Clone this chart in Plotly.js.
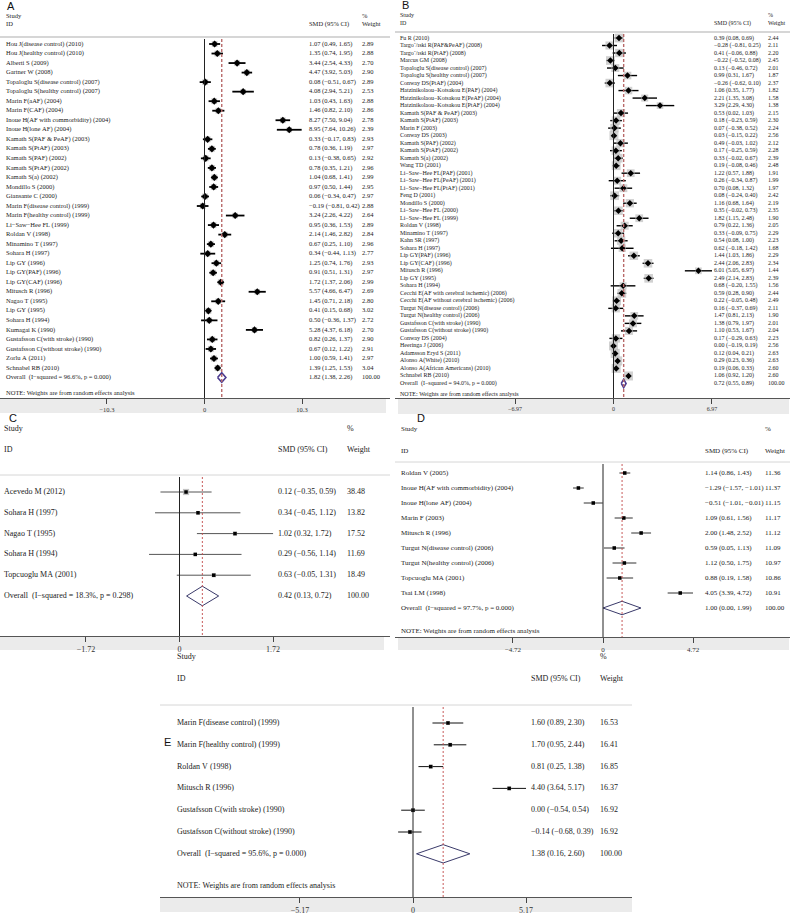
<!DOCTYPE html>
<html><head><meta charset="utf-8">
<script src="https://cdn.plot.ly/plotly-3.0.1.min.js"></script>
<style>body{margin:0;background:#fff}#chart{width:790px;height:914px}</style>
</head><body><div id="chart"></div>
<script>
// ---------------- DATA ----------------
const aStudies = ["Hou J(disease control) (2010)","Hou J(healthy control) (2010)","Alberti S (2009)","Gartner W (2008)","Topaloglu S(disease control) (2007)","Topaloglu S(healthy control) (2007)","Marin F(aAF) (2004)","Marin F(CAF) (2004)","Inoue H(AF with commorbidity) (2004)","Inoue H(lone AF) (2004)","Kamath S(PAF & PeAF) (2003)","Kamath S(PtAF) (2003)","Kamath S(PAF) (2002)","Kamath S(PtAF) (2002)","Kamath S(a) (2002)","Mondillo S (2000)","Giansante C (2000)","Marin F(disease control) (1999)","Marin F(healthy control) (1999)","Li−Saw−Hee FL (1999)","Roldan V (1998)","Minamino T (1997)","Sohara H (1997)","Lip GY (1996)","Lip GY(PAF) (1996)","Lip GY(CAF) (1996)","Mitusch R (1996)","Nagao T (1995)","Lip GY (1995)","Sohara H (1994)","Kumagai K (1990)","Gustafsson C(with stroke) (1990)","Gustafsson C(without stroke) (1990)","Zorlu A (2011)","Schnabel RB (2010)"];
const aSMD  = [1.07,1.35,3.44,4.47,0.08,4.08,1.03,1.46,8.27,8.95,0.33,0.78,0.13,0.78,1.04,0.97,0.06,-0.19,3.24,0.95,2.14,0.67,0.34,1.25,0.91,1.72,5.57,1.45,0.41,0.50,5.28,0.82,0.67,1.00,1.39];
const aLow  = [0.49,0.74,2.54,3.92,-0.51,2.94,0.43,0.82,7.50,7.64,-0.17,0.36,-0.38,0.35,0.68,0.50,-0.34,-0.81,2.26,0.36,1.46,0.25,-0.44,0.74,0.51,1.37,4.66,0.71,0.15,-0.36,4.37,0.26,0.12,0.59,1.25];
const aHigh = [1.65,1.95,4.33,5.03,0.67,5.21,1.63,2.10,9.04,10.26,0.83,1.19,0.65,1.21,1.41,1.44,0.47,0.42,4.22,1.53,2.82,1.10,1.13,1.76,1.31,2.06,6.47,2.18,0.68,1.37,6.18,1.37,1.22,1.41,1.53];
const aWeight = [2.89,2.88,2.70,2.90,2.89,2.53,2.88,2.86,2.78,2.39,2.93,2.97,2.92,2.96,2.99,2.95,2.97,2.88,2.64,2.89,2.84,2.96,2.77,2.93,2.97,2.99,2.69,2.80,3.02,2.72,2.70,2.90,2.91,2.97,3.04];
const aOverall = [1.82,1.38,2.26,100.00];
const aHet = "I−squared = 96.6%, p = 0.000";
const aTick = 10.3;

const bStudies = ["Fu R (2010)","Targo´/ıski R(PAF&PeAF) (2008)","Targo´/ıski R(PtAF) (2008)","Marcus GM (2008)","Topaloglu S(disease control) (2007)","Topaloglu S(healthy control) (2007)","Conway DS(PtAF) (2004)","Hatzinikolaou−Kotsakou E(PAF) (2004)","Hatzinikolaou−Kotsakou E(PeAF) (2004)","Hatzinikolaou−Kotsakou E(PtAF) (2004)","Kamath S(PAF & PeAF) (2003)","Kamath S(PtAF) (2003)","Marin F (2003)","Conway DS (2003)","Kamath S(PAF) (2002)","Kamath S(PtAF) (2002)","Kamath S(a) (2002)","Wang TD (2001)","Li−Saw−Hee FL(PAF) (2001)","Li−Saw−Hee FL(PeAF) (2001)","Li−Saw−Hee FL(PtAF) (2001)","Feng D (2001)","Mondillo S (2000)","Li−Saw−Hee FL (2000)","Li−Saw−Hee FL (1999)","Roldan V (1998)","Minamino T (1997)","Kahn SR (1997)","Sohara H (1997)","Lip GY(PAF) (1996)","Lip GY(CAF) (1996)","Mitusch R (1996)","Lip GY (1995)","Sohara H (1994)","Cecchi E(AF with cerebral ischemic) (2006)","Cecchi E(AF without cerebral ischemic) (2006)","Turgut N(disease control) (2006)","Turgut N(healthy control) (2006)","Gustafsson C(with stroke) (1990)","Gustafsson C(without stroke) (1990)","Conway DS (2004)","Heeringa J (2006)","Adamsson Eryd S (2011)","Alonso A(White) (2010)","Alonso A(African Americans) (2010)","Schnabel RB (2010)"];
const bSMD  = [0.39,-0.28,0.41,-0.22,0.13,0.99,-0.26,1.06,2.21,3.29,0.53,0.18,0.07,0.03,0.49,0.17,0.33,0.19,1.22,0.26,0.70,0.08,1.16,0.35,1.82,0.79,0.33,0.54,0.62,1.44,2.44,6.01,2.49,0.68,0.59,0.22,0.16,1.47,1.38,1.10,0.17,0.00,0.12,0.29,0.19,1.06];
const bLow  = [0.08,-0.81,-0.06,-0.52,-0.46,0.31,-0.62,0.35,1.35,2.29,0.02,-0.23,-0.38,-0.15,-0.03,-0.25,-0.02,-0.08,0.57,-0.34,0.08,-0.24,0.68,-0.02,1.15,0.22,-0.09,0.08,-0.18,1.03,2.06,5.05,2.14,-0.20,0.28,-0.05,-0.37,0.81,0.79,0.53,-0.29,-0.19,0.04,0.23,0.06,0.92];
const bHigh = [0.69,0.25,0.88,0.08,0.72,1.67,0.10,1.77,3.08,4.30,1.03,0.59,0.52,0.22,1.02,0.59,0.67,0.46,1.88,0.87,1.32,0.40,1.64,0.73,2.48,1.36,0.75,1.00,1.42,1.86,2.83,6.97,2.83,1.55,0.90,0.48,0.69,2.13,1.97,1.67,0.63,0.19,0.21,0.36,0.33,1.20];
const bWeight = [2.44,2.11,2.20,2.45,2.01,1.87,2.37,1.82,1.58,1.38,2.15,2.30,2.24,2.56,2.12,2.28,2.39,2.48,1.91,1.99,1.97,2.42,2.19,2.35,1.90,2.05,2.29,2.23,1.68,2.29,2.34,1.44,2.39,1.56,2.44,2.49,2.11,1.90,2.01,2.04,2.23,2.56,2.63,2.63,2.60,2.60];
const bOverall = [0.72,0.55,0.89,100.00];
const bHet = "I−squared = 94.0%, p = 0.000";
const bTick = 6.97;

const cStudies = ["Acevedo M (2012)","Sohara H (1997)","Nagao T (1995)","Sohara H (1994)","Topcuoglu MA (2001)"];
const cSMD  = [0.12,0.34,1.02,0.29,0.63];
const cLow  = [-0.35,-0.45,0.32,-0.56,-0.05];
const cHigh = [0.59,1.12,1.72,1.14,1.31];
const cWeight = [38.48,13.82,17.52,11.69,18.49];
const cOverall = [0.42,0.13,0.72,100.00];
const cHet = "I−squared = 18.3%, p = 0.298";
const cTick = 1.72;

const dStudies = ["Roldan V (2005)","Inoue H(AF with commorbidity) (2004)","Inoue H(lone AF) (2004)","Marin F (2003)","Mitusch R (1996)","Turgut N(disease control) (2006)","Turgut N(healthy control) (2006)","Topcuoglu MA (2001)","Tsai LM (1998)"];
const dSMD  = [1.14,-1.29,-0.51,1.09,2.00,0.59,1.12,0.88,4.05];
const dLow  = [0.86,-1.57,-1.01,0.61,1.48,0.05,0.50,0.19,3.39];
const dHigh = [1.43,-1.01,-0.01,1.56,2.52,1.13,1.75,1.58,4.72];
const dWeight = [11.36,11.37,11.15,11.17,11.12,11.09,10.97,10.86,10.91];
const dOverall = [1.00,0.00,1.99,100.00];
const dHet = "I−squared = 97.7%, p = 0.000";
const dTick = 4.72;

const eStudies = ["Marin F(disease control) (1999)","Marin F(healthy control) (1999)","Roldan V (1998)","Mitusch R (1996)","Gustafsson C(with stroke) (1990)","Gustafsson C(without stroke) (1990)"];
const eSMD  = [1.60,1.70,0.81,4.40,0.00,-0.14];
const eLow  = [0.89,0.95,0.25,3.64,-0.54,-0.68];
const eHigh = [2.30,2.44,1.38,5.17,0.54,0.39];
const eWeight = [16.53,16.41,16.85,16.37,16.92,16.92];
const eOverall = [1.38,0.16,2.60,100.00];
const eHet = "I−squared = 95.6%, p = 0.000";
const eTick = 5.17;

const noteText = "NOTE: Weights are from random effects analysis";
const headStudy = "Study", headID = "ID", headPct = "%", headSMD = "SMD (95% CI)", headWeight = "Weight";

// ---------------- LAYOUT / STYLE ----------------
const W = 790, H = 914;
const SERIF = "Liberation Serif, Times New Roman, serif";
const panels = [
  {letter:"A", names:aStudies, est:aSMD, lo:aLow, hi:aHigh, wt:aWeight, ov:aOverall, het:aHet, tick:aTick, note:true,
   p:{x0:0,x1:390,bx0:0,bx1:386,zero:204.5,scale:9.47,top:0,row0:44,step:9.53,axis:398,bandB:413,cName:6,cEst:309,cWt:362,studyY:16,idY:24,hline:37,font:6.5,noteY:393,lx:11,ly:5.5},
   s:{ci:'#000',ciw:1.8,pt:'diamond',pts:5.5,sq:3.4,sqc:'#b0b0b0',dc:'#4b3b8f',dw:1.6,dash:'#b86a6a',dashw:1.4,dh:0.5}},
  {letter:"B", names:bStudies, est:bSMD, lo:bLow, hi:bHigh, wt:bWeight, ov:bOverall, het:bHet, tick:bTick, note:true,
   p:{x0:395,x1:790,bx0:398,bx1:789,zero:613.5,scale:14.13,top:0,row0:38,step:7.51,axis:398,bandB:414,cName:400,cEst:714,cWt:768,studyY:15,idY:23,hline:32,font:6,noteY:394,lx:406,ly:5},
   s:{ci:'#000',ciw:1.4,pt:'diamond',pts:5,sq:5.6,sqc:'#bdbdbd',dc:'#4b3b8f',dw:1.6,dash:'#b86a6a',dashw:1.4,dh:0.55}},
  {letter:"C", names:cStudies, est:cSMD, lo:cLow, hi:cHigh, wt:cWeight, ov:cOverall, het:cHet, tick:cTick, note:false,
   p:{x0:0,x1:390,bx0:0,bx1:384,zero:179.5,scale:54.4,top:412,row0:492,step:20.8,axis:636,bandB:650,cName:4,cEst:278,cWt:347,studyY:429,idY:450,hline:475,font:8,noteY:0,lx:13,ly:418},
   s:{ci:'#555',ciw:1,pt:'square',pts:3.5,sq:1.0,sqc:'#aaaaaa',dc:'#3a3a6a',dw:1,dash:'#c24848',dashw:0.9,dh:0.47}},
  {letter:"D", names:dStudies, est:dSMD, lo:dLow, hi:dHigh, wt:dWeight, ov:dOverall, het:dHet, tick:dTick, note:true,
   p:{x0:395,x1:790,bx0:398,bx1:789,zero:603,scale:19.07,top:412,row0:473,step:15,axis:637,bandB:650,cName:401,cEst:705,cWt:765,studyY:429,idY:451,hline:462,font:7,noteY:631,lx:421,ly:418},
   s:{ci:'#333',ciw:1,pt:'square',pts:3.5,sq:1.0,sqc:'#aaaaaa',dc:'#3a3a6a',dw:1,dash:'#c24848',dashw:0.9,dh:0.45}},
  {letter:"E", names:eStudies, est:eSMD, lo:eLow, hi:eHigh, wt:eWeight, ov:eOverall, het:eHet, tick:eTick, note:true,
   p:{x0:160,x1:632,bx0:160,bx1:632,zero:413,scale:21.86,top:652,row0:723,step:21.8,axis:897,bandB:912,cName:177,cEst:531,cWt:600,studyY:657,idY:679,hline:705,font:8,noteY:886,lx:167,ly:742},
   s:{ci:'#111',ciw:1,pt:'square',pts:3.5,sq:1.0,sqc:'#aaaaaa',dc:'#3a3a6a',dw:1,dash:'#c24848',dashw:0.9,dh:0.42}}
];

const fmt = v => (v < 0 ? "−" : "") + Math.abs(v).toFixed(2);
const ciText = (e,l,h) => `${fmt(e)} (${fmt(l)}, ${fmt(h)})`;

const traces = [], shapes = [], annotations = [];
const layout = {width:W, height:H, margin:{l:0,r:0,t:0,b:0}, paper_bgcolor:'#fff', plot_bgcolor:'rgba(0,0,0,0)', showlegend:false};

panels.forEach((P, k) => {
  const p = P.p, s = P.s;
  const xid = k === 0 ? 'x' : 'x' + (k+1), yid = k === 0 ? 'y' : 'y' + (k+1);
  const xkey = k === 0 ? 'xaxis' : 'xaxis' + (k+1), ykey = k === 0 ? 'yaxis' : 'yaxis' + (k+1);
  const px2x = q => (q - p.zero) / p.scale;
  const py2r = q => (q - p.row0) / p.step;
  const n = P.names.length;
  const rows = P.names.map((_, i) => i);
  const rTop = py2r(p.top), rBot = py2r(p.axis);

  layout[xkey] = {domain:[p.x0/W, p.x1/W], range:[px2x(p.x0), px2x(p.x1)], anchor:yid,
    tickvals:[-P.tick, 0, P.tick], ticktext:["−" + P.tick, "0", String(P.tick)],
    ticks:'outside', ticklen:5, tickwidth:1, tickcolor:'#444', showline:true, linecolor:'#555', linewidth:1.2,
    showgrid:false, zeroline:false, tickfont:{family:SERIF, size:p.font, color:'#333'}, fixedrange:true};
  layout[ykey] = {domain:[(H - p.axis)/H, (H - p.top)/H], range:[rBot, rTop], anchor:xid, visible:false, fixedrange:true};

  // gray band under axis & header line
  shapes.push({type:'rect', xref:'paper', yref:'paper', x0:p.bx0/W, x1:p.bx1/W, y0:(H-p.bandB)/H, y1:(H-p.axis)/H, fillcolor:'#ebebeb', line:{width:0}, layer:'below'});
  shapes.push({type:'line', xref:'paper', yref:'paper', x0:p.x0/W, x1:p.x1/W, y0:(H-p.hline)/H, y1:(H-p.hline)/H, line:{color:'#d6d6d6', width:k<2?2:1}, layer:'below'});
  // null line and overall dashed line
  const rStart = py2r(p.hline + 2);
  shapes.push({type:'line', xref:xid, yref:yid, x0:0, x1:0, y0:rStart, y1:rBot, line:{color:'#222', width:1}});
  shapes.push({type:'line', xref:xid, yref:yid, x0:P.ov[0], x1:P.ov[0], y0:rStart, y1:rBot, line:{color:s.dash, width:s.dashw, dash:k<2?'3px,2px':'2px,2px'}});

  // CI lines
  const lx = [], ly = [];
  P.lo.forEach((l, i) => { lx.push(l, P.hi[i], null); ly.push(i, i, null); });
  traces.push({type:'scatter', mode:'lines', x:lx, y:ly, xaxis:xid, yaxis:yid, line:{color:s.ci, width:s.ciw}, hoverinfo:'skip'});
  // weight boxes
  traces.push({type:'scatter', mode:'markers', x:P.est, y:rows, xaxis:xid, yaxis:yid,
    marker:{symbol:'square', size:P.wt.map(w => s.sq*Math.sqrt(w)), color:s.sqc, line:{width:0}}, hoverinfo:'skip'});
  // point estimates
  traces.push({type:'scatter', mode:'markers', x:P.est, y:rows, xaxis:xid, yaxis:yid,
    marker:{symbol:s.pt, size:s.pts, color:'#000', line:{width:0}}, hoverinfo:'skip'});
  // overall diamond
  const o = P.ov;
  traces.push({type:'scatter', mode:'lines', x:[o[1], o[0], o[2], o[0], o[1]], y:[n, n - s.dh, n, n + s.dh, n], xaxis:xid, yaxis:yid,
    line:{color:s.dc, width:s.dw}, hoverinfo:'skip'});

  // text columns
  const tf = {family:SERIF, size:p.font, color:'#222'};
  const textTrace = (xpx, ys, txt) => traces.push({type:'scatter', mode:'text', x:ys.map(() => px2x(xpx)), y:ys, text:txt,
    textposition:'middle right', textfont:tf, xaxis:xid, yaxis:yid, cliponaxis:false, hoverinfo:'skip'});
  const nb = t => t.replace(/ /g, '\u00a0');
  textTrace(p.cName, rows.concat([n]), P.names.map(nb).concat([nb("Overall  (" + P.het + ")")]));
  textTrace(p.cEst, rows.concat([n]), P.est.map((e, i) => nb(ciText(e, P.lo[i], P.hi[i]))).concat([nb(ciText(o[0], o[1], o[2]))]));
  textTrace(p.cWt, rows.concat([n]), P.wt.map(w => w.toFixed(2)).concat([o[3].toFixed(2)]));
  // headers
  textTrace(p.cName, [py2r(p.studyY), py2r(p.idY)], [headStudy, headID]);
  textTrace(p.cEst, [py2r(p.idY)], [nb(headSMD)]);
  textTrace(p.cWt, [py2r(p.studyY), py2r(p.idY)], [headPct, headWeight]);
  if (P.note) textTrace(p.cName, [py2r(p.noteY)], [nb(noteText)]);

  annotations.push({xref:'paper', yref:'paper', x:p.lx/W, y:1 - p.ly/H, text:P.letter, showarrow:false,
    xanchor:'center', yanchor:'middle', font:{family:'Liberation Sans, Arial, sans-serif', size:11, color:'#111'}});
});

layout.shapes = shapes;
layout.annotations = annotations;
Plotly.newPlot('chart', traces, layout, {staticPlot:true, displayModeBar:false});
</script>
</body></html>
